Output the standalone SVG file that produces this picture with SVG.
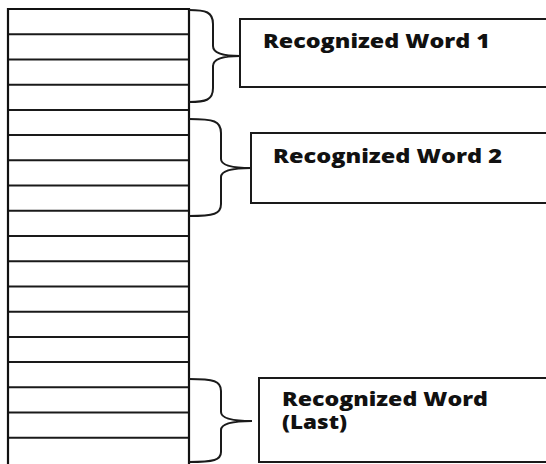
<svg xmlns="http://www.w3.org/2000/svg" width="546" height="464" viewBox="0 0 546 464">
<style>
.col{fill:none;stroke:#111;stroke-width:2.2}
.row{stroke:#1a1a1a;stroke-width:2}
.brace{fill:none;stroke:#1a1a1a;stroke-width:2}
.box{fill:#fff;stroke:#1a1a1a;stroke-width:2}
.lbl{font-family:"Open Sans","Liberation Sans",sans-serif;font-weight:800;font-size:18.5px;fill:#111}
</style>
<rect width="546" height="464" fill="#fff"/>
<g id="column">
<line class="row" x1="8" y1="34.2" x2="189" y2="34.2"/>
<line class="row" x1="8" y1="59.4" x2="189" y2="59.4"/>
<line class="row" x1="8" y1="84.7" x2="189" y2="84.7"/>
<line class="row" x1="8" y1="109.9" x2="189" y2="109.9"/>
<line class="row" x1="8" y1="135.1" x2="189" y2="135.1"/>
<line class="row" x1="8" y1="160.3" x2="189" y2="160.3"/>
<line class="row" x1="8" y1="185.6" x2="189" y2="185.6"/>
<line class="row" x1="8" y1="210.8" x2="189" y2="210.8"/>
<line class="row" x1="8" y1="236" x2="189" y2="236"/>
<line class="row" x1="8" y1="261.2" x2="189" y2="261.2"/>
<line class="row" x1="8" y1="286.4" x2="189" y2="286.4"/>
<line class="row" x1="8" y1="311.7" x2="189" y2="311.7"/>
<line class="row" x1="8" y1="336.9" x2="189" y2="336.9"/>
<line class="row" x1="8" y1="362.1" x2="189" y2="362.1"/>
<line class="row" x1="8" y1="387.3" x2="189" y2="387.3"/>
<line class="row" x1="8" y1="412.6" x2="189" y2="412.6"/>
<line class="row" x1="8" y1="437.8" x2="189" y2="437.8"/>
<path class="col" d="M8,470 L8,9 L189,9 L189,470"/>
</g>
<g id="connectors">
<path class="brace" d="M189,10 C206,10 213,12 213,24 L213,46 C213,52 220,56 240,56 C220,56 213,60 213,66 L213,88 C213,100 206,102 189,102"/>
<path class="brace" d="M189,119 C214,119 221,121 221,133 L221,159 C221,164 228,168 251,168 C228,168 221,172 221,177 L221,204 C221,214 214,216 189,216"/>
<path class="brace" d="M189,379 C214,379 221,381 221,391 L221,412 C221,417 228,421 252,421 C228,421 221,425 221,430 L221,452 C221,460 214,462 189,462"/>
</g>
<g id="word1">
<rect class="box" x="240" y="19" width="320" height="68"/>
<text class="lbl" x="263" y="48" textLength="227" lengthAdjust="spacingAndGlyphs">Recognized Word 1</text>
</g>
<g id="word2">
<rect class="box" x="251" y="133" width="310" height="70"/>
<text class="lbl" x="273" y="163" textLength="229" lengthAdjust="spacingAndGlyphs">Recognized Word 2</text>
</g>
<g id="wordLast">
<rect class="box" x="259" y="378" width="300" height="84"/>
<text class="lbl" x="282" y="406" textLength="206" lengthAdjust="spacingAndGlyphs">Recognized Word</text>
<text class="lbl" x="282" y="429" textLength="65" lengthAdjust="spacingAndGlyphs">(Last)</text>
</g>
</svg>
